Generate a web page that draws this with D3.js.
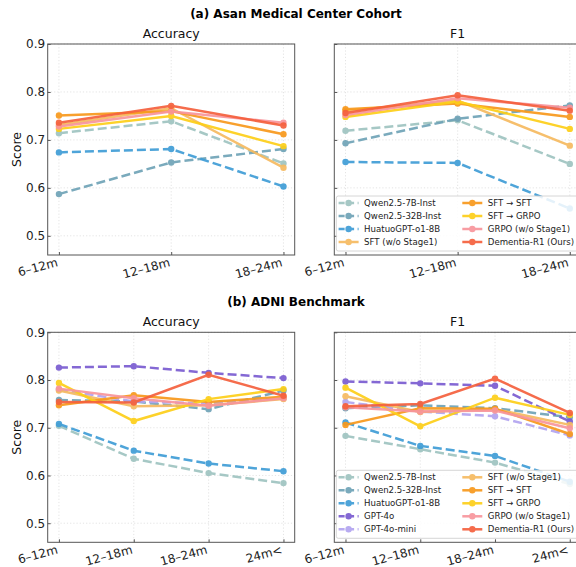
<!DOCTYPE html>
<html>
<head>
<meta charset="utf-8">
<script src="https://cdn.jsdelivr.net/npm/d3@7"></script>
<style>
  body { margin: 0; background: #fff; }
  svg { display: block; }
</style>
</head>
<body>
<script>
// --- data ---
const asanPeriods = ["6–12m", "12–18m", "18–24m"];
const adniPeriods = ["6–12m", "12–18m", "18–24m", "24m<"];
const yTicks = [0.5, 0.6, 0.7, 0.8, 0.9];

const asanModels = ["Qwen2.5-7B-Inst", "Qwen2.5-32B-Inst", "HuatuoGPT-o1-8B",
  "SFT (w/o Stage1)", "SFT → SFT", "SFT → GRPO", "GRPO (w/o Stage1)", "Dementia-R1 (Ours)"];

// one row per model, same order as asanModels
const asanAccuracy = [
  [0.714, 0.739, 0.651],
  [0.587, 0.653, 0.681],
  [0.674, 0.681, 0.603],
  [0.731, 0.766, 0.642],
  [0.751, 0.760, 0.712],
  [0.723, 0.750, 0.687],
  [0.728, 0.759, 0.736],
  [0.736, 0.771, 0.730]
];
const asanF1 = [
  [0.719, 0.741, 0.650],
  [0.693, 0.744, 0.772],
  [0.654, 0.652, 0.557],
  [0.761, 0.782, 0.688],
  [0.764, 0.776, 0.748],
  [0.748, 0.780, 0.723],
  [0.752, 0.787, 0.767],
  [0.756, 0.793, 0.761]
];

const adniModels = ["Qwen2.5-7B-Inst", "Qwen2.5-32B-Inst", "HuatuoGPT-o1-8B", "GPT-4o", "GPT-4o-mini",
  "SFT (w/o Stage1)", "SFT → SFT", "SFT → GRPO", "GRPO (w/o Stage1)", "Dementia-R1 (Ours)"];

const adniAccuracy = [
  [0.704, 0.635, 0.605, 0.584],
  [0.758, 0.755, 0.739, 0.778],
  [0.708, 0.652, 0.625, 0.609],
  [0.826, 0.829, 0.815, 0.804],
  [0.780, 0.755, 0.751, 0.762],
  [0.778, 0.745, 0.747, 0.760],
  [0.747, 0.768, 0.754, 0.765],
  [0.794, 0.714, 0.760, 0.781],
  [0.782, 0.762, 0.746, 0.762],
  [0.754, 0.753, 0.811, 0.767]
];
const adniF1 = [
  [0.683, 0.655, 0.627, 0.582],
  [0.741, 0.747, 0.741, 0.722],
  [0.711, 0.662, 0.641, 0.587],
  [0.797, 0.793, 0.788, 0.713],
  [0.754, 0.734, 0.724, 0.684],
  [0.766, 0.733, 0.739, 0.706],
  [0.706, 0.741, 0.740, 0.687],
  [0.784, 0.703, 0.763, 0.727],
  [0.743, 0.734, 0.736, 0.699],
  [0.745, 0.750, 0.803, 0.731]
];

// --- styles ---
const colors = {
  "Qwen2.5-7B-Inst": "#9fc4c1",
  "Qwen2.5-32B-Inst": "#6fa3b7",
  "HuatuoGPT-o1-8B": "#3f9dd6",
  "GPT-4o": "#7a5cd1",
  "GPT-4o-mini": "#b2a4f0",
  "SFT (w/o Stage1)": "#f6ba60",
  "SFT → SFT": "#f8991c",
  "SFT → GRPO": "#fdcf18",
  "GRPO (w/o Stage1)": "#f8959c",
  "Dementia-R1 (Ours)": "#f5603d"
};
const dashed = new Set(["Qwen2.5-7B-Inst", "Qwen2.5-32B-Inst", "HuatuoGPT-o1-8B", "GPT-4o", "GPT-4o-mini"]);

const font = "DejaVu Sans, sans-serif";
const W = 576, H = 567;

const svg = d3.select("body").append("svg")
  .attr("width", W)
  .attr("height", H)
  .style("font-family", font);

function drawPanel(p) {
  const x = d3.scalePoint()
    .domain(p.periods)
    .range([p.left, p.right])
    .padding(0.05 * (p.periods.length - 1));
  const y = d3.scaleLinear().domain([0.46, 0.9]).range([p.bottom, p.top]);

  const g = svg.append("g");

  // dotted grid
  g.append("g").selectAll("line.gy")
    .data(yTicks)
    .join("line")
      .attr("x1", p.left).attr("x2", p.right)
      .attr("y1", d => y(d)).attr("y2", d => y(d))
      .attr("stroke", "#d9d9d9").attr("stroke-width", 0.7)
      .attr("stroke-dasharray", "1.2,2");
  g.append("g").selectAll("line.gx")
    .data(p.periods)
    .join("line")
      .attr("x1", d => x(d)).attr("x2", d => x(d))
      .attr("y1", p.top).attr("y2", p.bottom)
      .attr("stroke", "#d9d9d9").attr("stroke-width", 0.7)
      .attr("stroke-dasharray", "1.2,2");

  // series
  const line = d3.line()
    .x((d, i) => x(p.periods[i]))
    .y(d => y(d));

  p.models.forEach((m, k) => {
    const vals = p.values[k];
    const s = g.append("g").attr("opacity", 0.92);
    s.append("path")
      .datum(vals)
      .attr("d", line)
      .attr("fill", "none")
      .attr("stroke", colors[m])
      .attr("stroke-width", 2.5)
      .attr("stroke-dasharray", dashed.has(m) ? "9,4" : null);
    s.selectAll("circle")
      .data(vals)
      .join("circle")
        .attr("cx", (d, i) => x(p.periods[i]))
        .attr("cy", d => y(d))
        .attr("r", 3.2)
        .attr("fill", colors[m]);
  });

  // frame
  g.append("rect")
    .attr("x", p.left).attr("y", p.top)
    .attr("width", p.right - p.left).attr("height", p.bottom - p.top)
    .attr("fill", "none").attr("stroke", "#555").attr("stroke-width", 1);

  // axes (ticks pointing inward)
  const ya = g.append("g")
    .attr("transform", `translate(${p.left},0)`)
    .call(d3.axisLeft(y).tickValues(yTicks).tickSize(-3).tickPadding(2.5).tickFormat(d3.format(".1f")));
  ya.select(".domain").remove();
  ya.selectAll("line").attr("stroke", "#555");
  ya.selectAll("text").attr("font-size", 12).attr("fill", "#222").attr("font-family", font);
  if (!p.yLabels) ya.selectAll("text").remove();

  const xa = g.append("g")
    .attr("transform", `translate(0,${p.bottom})`)
    .call(d3.axisBottom(x).tickSize(-3));
  xa.select(".domain").remove();
  xa.selectAll("line").attr("stroke", "#555");
  xa.selectAll("text")
    .attr("font-size", 12).attr("fill", "#222").attr("font-family", font)
    .attr("text-anchor", "end")
    .attr("y", 0).attr("dy", 0)
    .attr("transform", "translate(-1,11) rotate(-15)");

  // subplot title
  g.append("text")
    .attr("x", (p.left + p.right) / 2).attr("y", p.top - 6)
    .attr("text-anchor", "middle").attr("font-size", 12.5).attr("fill", "#111")
    .text(p.title);

  if (p.yLabels) {
    g.append("text")
      .attr("transform", `translate(21,${(p.top + p.bottom) / 2}) rotate(-90)`)
      .attr("text-anchor", "middle").attr("font-size", 12.5).attr("fill", "#111")
      .text("Score");
  }

  if (p.legend) drawLegend(p.models, p.left + 2, p.bottom - 4);
}

function drawLegend(models, x0, bottom) {
  const rows = Math.ceil(models.length / 2);
  const step = 13;
  const h = 7 + (rows - 1) * step + 9;
  const top = bottom - h;
  const lg = svg.append("g");
  lg.append("rect")
    .attr("x", x0).attr("y", top)
    .attr("width", 245).attr("height", h)
    .attr("rx", 2)
    .attr("fill", "#fff").attr("fill-opacity", 0.85)
    .attr("stroke", "#cccccc").attr("stroke-width", 0.8);
  const colX = [x0 + 2.3, x0 + 126];
  models.forEach((m, i) => {
    const col = Math.floor(i / rows), row = i % rows;
    const cy = top + 7 + row * step;
    const hx = colX[col];
    const e = lg.append("g").attr("opacity", 0.92);
    e.append("line")
      .attr("x1", hx).attr("x2", hx + 20)
      .attr("y1", cy).attr("y2", cy)
      .attr("stroke", colors[m]).attr("stroke-width", 2.5)
      .attr("stroke-dasharray", dashed.has(m) ? "6,3.5" : null);
    e.append("circle")
      .attr("cx", hx + 10).attr("cy", cy).attr("r", 3.2)
      .attr("fill", colors[m]);
    lg.append("text")
      .attr("x", hx + 25.5).attr("y", cy)
      .attr("dy", "0.35em")
      .attr("font-size", 8.6).attr("fill", "#222")
      .text(m);
  });
}

// figure titles
svg.append("text")
  .attr("x", 296).attr("y", 18)
  .attr("text-anchor", "middle").attr("font-size", 12).attr("font-weight", "bold")
  .text("(a) Asan Medical Center Cohort");
svg.append("text")
  .attr("x", 296).attr("y", 306)
  .attr("text-anchor", "middle").attr("font-size", 12).attr("font-weight", "bold")
  .text("(b) ADNI Benchmark");

const L1 = 47.7, R1 = 294.7, L2 = 334.3, R2 = 581;

drawPanel({ left: L1, right: R1, top: 44, bottom: 255, periods: asanPeriods,
  models: asanModels, values: asanAccuracy, title: "Accuracy", yLabels: true });
drawPanel({ left: L2, right: R2, top: 44, bottom: 255, periods: asanPeriods,
  models: asanModels, values: asanF1, title: "F1", yLabels: false, legend: true });
drawPanel({ left: L1, right: R1, top: 332.3, bottom: 542.3, periods: adniPeriods,
  models: adniModels, values: adniAccuracy, title: "Accuracy", yLabels: true });
drawPanel({ left: L2, right: R2, top: 332.3, bottom: 542.3, periods: adniPeriods,
  models: adniModels, values: adniF1, title: "F1", yLabels: false, legend: true });
</script>
</body>
</html>
